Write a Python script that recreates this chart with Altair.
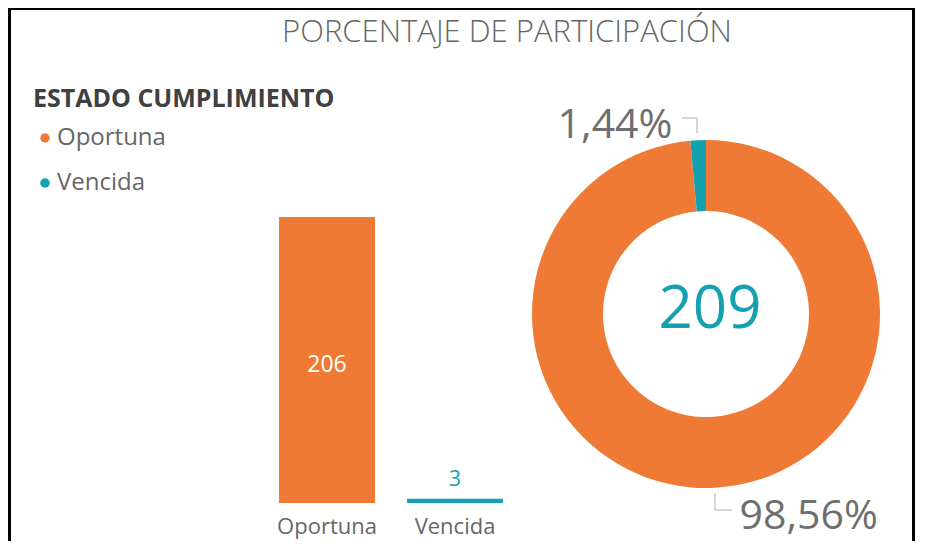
import altair as alt
import pandas as pd

# ---- data ----
categories = ["Oportuna", "Vencida"]
values = [206, 3]
order = [0, 1]
colors = ["#EF7A35", "#15A0AF"]
title_text = "PORCENTAJE DE PARTICIPACIÓN"
legend_title = "ESTADO CUMPLIMIENTO"

df = pd.DataFrame({"category": categories, "value": values, "order": order})

FONT = "Open Sans"
W, H = 908, 533

color_enc = alt.Color(
    "category:N",
    scale=alt.Scale(domain=categories, range=colors),
    legend=alt.Legend(
        orient="none", legendX=25, legendY=79, title=legend_title, titleLimit=500,
        titleFontSize=25, titleFontWeight="bold", titleColor="#404040", titleFont=FONT,
        labelFont=FONT, labelFontSize=24, labelColor="#666666", labelLimit=300,
        symbolType="circle", symbolSize=90, symbolStrokeWidth=0, symbolOpacity=1,
        rowPadding=21, titlePadding=14, padding=0, symbolOffset=0, labelOffset=0,
    ),
)

xs = alt.X("category:N", sort=categories, axis=None,
           scale=alt.Scale(range=[271, 495], paddingInner=0.25, paddingOuter=0))
ys = alt.Scale(domain=[0, max(values)], range=[495, 209], nice=False, zero=True)

base = alt.Chart(df)

# border
frame = alt.Chart(pd.DataFrame({"a": [0]})).mark_rect(
    fillOpacity=0, stroke="black", strokeWidth=3
).encode(x=alt.value(1.5), x2=alt.value(905.5), y=alt.value(0.5), y2=alt.value(700))

# title
title = alt.Chart(pd.DataFrame({"t": [title_text]})).mark_text(
    font=FONT, fontSize=31, fontWeight=300, color="#666666", baseline="middle", align="center"
).encode(text="t:N", x=alt.value(499), y=alt.value(25))

# bars
bars = base.mark_bar().encode(
    x=xs, y=alt.Y("value:Q", scale=ys, axis=None), color=color_enc
)
inside = base.transform_filter("datum.value > 20").transform_calculate(
    mid="datum.value / 2"
).mark_text(font=FONT, fontSize=23, color="white", baseline="middle", dy=5).encode(
    x=xs, y=alt.Y("mid:Q", scale=ys, axis=None), text="value:Q"
)
outside = base.transform_filter("datum.value <= 20").mark_text(
    font=FONT, fontSize=21, color=colors[1], baseline="middle", dy=-19
).encode(x=xs, y=alt.Y("value:Q", scale=ys, axis=None), text="value:Q")
xlabels = base.mark_text(font=FONT, fontSize=22, color="#666666", baseline="middle").encode(
    x=xs, y=alt.value(519), text="category:N"
)

# donut
CX, CY = 698, 306
arc = base.mark_arc(outerRadius=174, innerRadius=103).encode(
    theta=alt.Theta("value:Q", stack=True),
    order=alt.Order("order:Q"),
    color=color_enc,
    x=alt.value(CX), y=alt.value(CY),
)

lab_base = base.transform_joinaggregate(total="sum(value)").transform_window(
    cum="sum(value)", sort=[alt.SortField("order")], frame=[None, 0]
).transform_calculate(
    mid="datum.cum - datum.value / 2",
    pct="replace(format(datum.value / datum.total, '.2%'), '.', ',')",
)
lab_small = lab_base.transform_filter("datum.value / datum.total < 0.5").mark_text(
    radius=190, font=FONT, fontSize=41, color="#6E6E6E", align="right", baseline="middle", dx=-25, dy=2
).encode(theta=alt.Theta("mid:Q", stack=False), text="pct:N", x=alt.value(CX), y=alt.value(CY))
lab_big = lab_base.transform_filter("datum.value / datum.total >= 0.5").mark_text(
    radius=190, font=FONT, fontSize=41, color="#6E6E6E", align="left", baseline="middle", dx=25, dy=13
).encode(theta=alt.Theta("mid:Q", stack=False), text="pct:N", x=alt.value(CX), y=alt.value(CY))

one = pd.DataFrame({"a": [0]})
lead = alt.Chart(one).mark_rule(color="#C8C8C8", strokeWidth=1.5)
leaders = [
    lead.encode(x=alt.value(674), x2=alt.value(689), y=alt.value(110)),
    lead.encode(x=alt.value(689), y=alt.value(110), y2=alt.value(125)),
    lead.encode(x=alt.value(707), y=alt.value(485), y2=alt.value(502)),
    lead.encode(x=alt.value(707), x2=alt.value(724), y=alt.value(502)),
]

center = base.mark_text(font=FONT, fontSize=60, color=colors[1], baseline="middle", align="center").encode(
    text=alt.Text("sum(value):Q"), x=alt.value(702), y=alt.value(302)
)

chart = alt.layer(
    frame, title, bars, inside, outside, xlabels, arc, lab_small, lab_big, *leaders, center
).properties(
    width=W, height=H, autosize=alt.AutoSizeParams(type="none"), padding=0, background="white"
).configure_view(stroke=None)

chart.save("out.html", embed_options={"renderer": "svg", "actions": False})
